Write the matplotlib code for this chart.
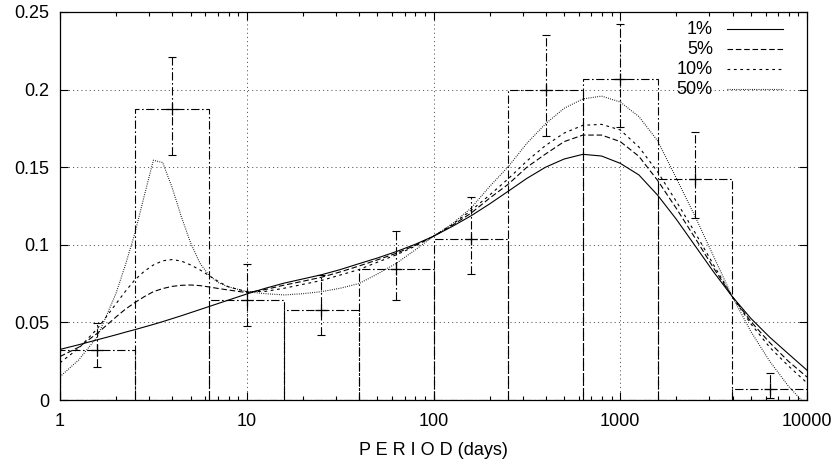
import numpy as np
import matplotlib
matplotlib.use("Agg")
import matplotlib.pyplot as plt
from matplotlib.ticker import FuncFormatter, LogLocator, MultipleLocator, NullFormatter

plt.rcParams['font.family'] = ['Liberation Sans', 'DejaVu Sans']
plt.rcParams['lines.scale_dashes'] = False

# -------------------------------
# histogram (period bins, days)
# -------------------------------
bin_edges = [1.0, 2.512, 6.310, 15.85, 39.81, 100.0, 251.2, 631.0, 1585.0, 3981.0, 10000.0]
bin_heights = [0.0322, 0.1875, 0.0645, 0.0582, 0.0842, 0.1035, 0.2000, 0.2068, 0.1422, 0.0069]

# data points with error bars (bin centres)
point_period = [1.585, 3.981, 10.0, 25.12, 63.10, 158.5, 398.1, 1000.0, 2512.0, 6310.0]
point_value = [0.0322, 0.1875, 0.0645, 0.0582, 0.0842, 0.1035, 0.2000, 0.2068, 0.1422, 0.0069]
point_low = [0.0210, 0.1580, 0.0477, 0.0419, 0.0644, 0.0812, 0.1700, 0.1760, 0.1170, 0.0015]
point_high = [0.0498, 0.2212, 0.0876, 0.0805, 0.1090, 0.1306, 0.2352, 0.2423, 0.1729, 0.0172]

# -------------------------------
# model curves, sampled at log10(period)
# -------------------------------
log_period = [0.0, 0.1, 0.2, 0.3, 0.35, 0.4, 0.45, 0.5, 0.55, 0.6, 0.65, 0.7, 0.75, 0.8,
              0.85, 0.9, 1.0, 1.1, 1.2, 1.3, 1.4, 1.5, 1.6, 1.7, 1.8, 1.9, 2.0, 2.1,
              2.2, 2.3, 2.4, 2.5, 2.6, 2.7, 2.8, 2.9, 3.0, 3.1, 3.2, 3.3, 3.4, 3.5,
              3.6, 3.7, 3.8, 3.9, 4.0]

curve_1 = [0.0326, 0.0356, 0.0388, 0.0420, 0.0437, 0.0453, 0.0470, 0.0487, 0.0505, 0.0524,
           0.0543, 0.0563, 0.0583, 0.0603, 0.0623, 0.0643, 0.0683, 0.0720, 0.0753, 0.0780,
           0.0807, 0.0840, 0.0878, 0.0915, 0.0956, 0.1002, 0.1055, 0.1118, 0.1186, 0.1263,
           0.1345, 0.1428, 0.1500, 0.1553, 0.1583, 0.1572, 0.1525, 0.1450, 0.1320, 0.1165,
           0.0995, 0.0825, 0.0666, 0.0525, 0.0405, 0.0298, 0.0192]

curve_5 = [0.0280, 0.0340, 0.0430, 0.0535, 0.0585, 0.0627, 0.0665, 0.0698, 0.0718, 0.0732,
           0.0739, 0.0741, 0.0737, 0.0728, 0.0718, 0.0709, 0.0692, 0.0712, 0.0740, 0.0765,
           0.0791, 0.0825, 0.0863, 0.0903, 0.0945, 0.0995, 0.1055, 0.1125, 0.1203, 0.1300,
           0.1390, 0.1500, 0.1585, 0.1665, 0.1707, 0.1707, 0.1665, 0.1570, 0.1415, 0.1235,
           0.1045, 0.0850, 0.0666, 0.0505, 0.0370, 0.0250, 0.0148]

curve_10 = [0.0240, 0.0333, 0.0460, 0.0620, 0.0700, 0.0773, 0.0828, 0.0870, 0.0897, 0.0905,
            0.0895, 0.0870, 0.0838, 0.0800, 0.0762, 0.0730, 0.0698, 0.0700, 0.0720, 0.0745,
            0.0770, 0.0805, 0.0840, 0.0888, 0.0935, 0.0990, 0.1055, 0.1130, 0.1220, 0.1320,
            0.1425, 0.1540, 0.1640, 0.1720, 0.1770, 0.1776, 0.1740, 0.1630, 0.1470, 0.1280,
            0.1080, 0.0870, 0.0666, 0.0490, 0.0340, 0.0220, 0.0110]

curve_50 = [0.0150, 0.0258, 0.0408, 0.0687, 0.0870, 0.1070, 0.1310, 0.1545, 0.1530, 0.1370,
            0.1180, 0.1010, 0.0880, 0.0800, 0.0755, 0.0730, 0.0698, 0.0685, 0.0677, 0.0685,
            0.0698, 0.0720, 0.0750, 0.0812, 0.0880, 0.0965, 0.1055, 0.1135, 0.1235, 0.1375,
            0.1503, 0.1654, 0.1780, 0.1880, 0.1940, 0.1958, 0.1920, 0.1826, 0.1670, 0.1430,
            0.1185, 0.0925, 0.0666, 0.0440, 0.0250, 0.0090, -0.0040]

labels = ["1%", "5%", "10%", "50%"]
curves = [curve_1, curve_5, curve_10, curve_50]

# -------------------------------
# styles
# -------------------------------
styles = ['-', (0, (4.0, 2.0)), (0, (2.0, 2.6)), (0, (0.6, 1.0))]
dashdot = (0, (6.0, 1.8, 1.2, 1.8))
lw = 0.8


def main():
    fig = plt.figure(figsize=(8.38, 4.65), dpi=100)
    ax = fig.add_axes([60 / 838, 65 / 465, 747 / 838, 388 / 465])

    period = 10 ** np.array(log_period)

    # grid
    ax.grid(True, which='major', color='0.35', linestyle=(0, (0.8, 2.2)), linewidth=0.7)
    ax.set_axisbelow(True)

    # histogram boxes
    edges = np.array(bin_edges)
    ax.bar(edges[:-1], bin_heights, width=np.diff(edges), align='edge',
           fill=False, edgecolor='k', linestyle=dashdot, linewidth=lw)

    # error bars
    val = np.array(point_value)
    yerr = [val - np.array(point_low), np.array(point_high) - val]
    eb = ax.errorbar(point_period, val, yerr=yerr, fmt='none', ecolor='k',
                     elinewidth=lw, capsize=3, capthick=lw)
    eb[2][0].set_linestyle(dashdot)
    ax.plot(point_period, val, '+', color='k', markersize=9, markeredgewidth=0.9)

    # model curves
    for y, ls in zip(curves, styles):
        ax.plot(period, y, color='k', linestyle=ls, linewidth=lw)

    # legend (gnuplot style: right aligned text, then sample)
    for i, (lab, ls) in enumerate(zip(labels, styles)):
        yy = 0.956 - i * 0.0515
        ax.text(0.874, yy, lab, transform=ax.transAxes, ha='right', va='center',
                fontsize=13)
        ax.plot([0.893, 0.968], [yy, yy], transform=ax.transAxes, color='k',
                linestyle=ls, linewidth=lw)

    # axes
    ax.set_xscale('log')
    ax.set_xlim(1, 10000)
    ax.set_ylim(0, 0.25)
    ax.xaxis.set_major_locator(LogLocator(base=10))
    ax.xaxis.set_minor_locator(LogLocator(base=10, subs=np.arange(2, 10)))
    ax.xaxis.set_minor_formatter(NullFormatter())
    ax.xaxis.set_major_formatter(FuncFormatter(lambda v, p: f"{v:g}"))
    ax.yaxis.set_major_locator(MultipleLocator(0.05))
    ax.yaxis.set_major_formatter(FuncFormatter(lambda v, p: f"{v:g}"))

    ax.tick_params(which='both', direction='in', top=True, right=True,
                   labelsize=13, width=0.8)
    ax.tick_params(which='major', length=6)
    ax.tick_params(which='minor', length=3)
    ax.tick_params(axis='x', pad=9)
    ax.tick_params(axis='y', pad=8)
    for s in ax.spines.values():
        s.set_linewidth(0.9)

    ax.set_xlabel("P E R I O D (days)", fontsize=13, labelpad=9)

    fig.savefig("out.png", dpi=100)


if __name__ == "__main__":
    main()
